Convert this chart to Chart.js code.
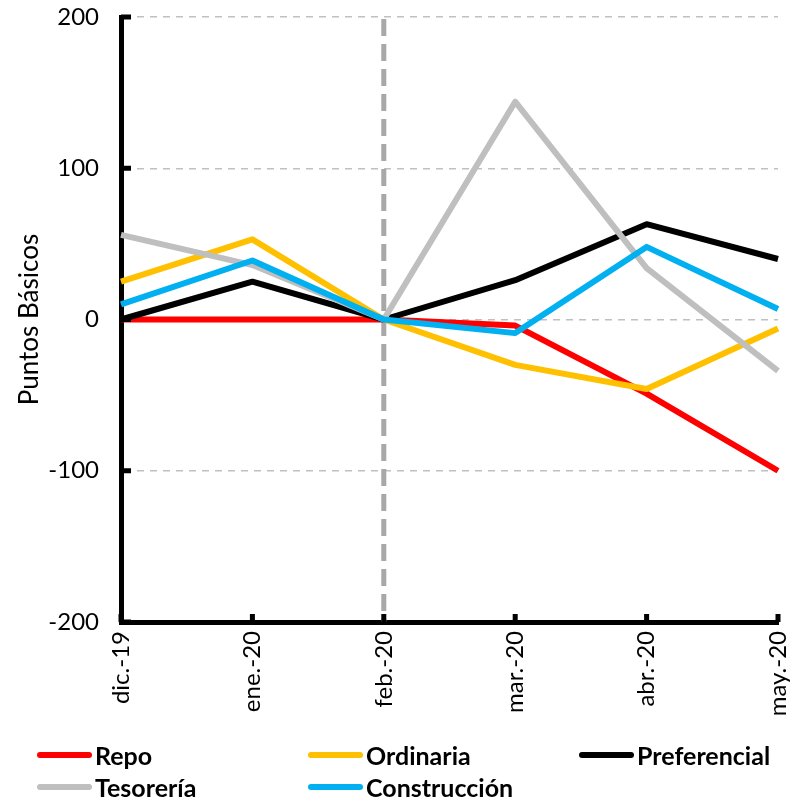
<!DOCTYPE html>
<html>
<head>
<meta charset="utf-8">
<script src="https://cdn.jsdelivr.net/npm/chart.js@4/dist/chart.umd.min.js"></script>
<style>
    body { margin: 0; background: #fff; }
    #wrap { position: relative; width: 792px; height: 803px; }
    #chart { position: absolute; left: 0; top: 0; }
    #legend {
        position: absolute; left: 37px; top: 739px;
        display: grid; grid-template-columns: 271px 271px 200px; grid-auto-rows: 32px;
        font-family: Lato, 'DejaVu Sans', sans-serif; font-weight: bold; font-size: 25px; color: #000;
    }
    .item { display: flex; align-items: center; }
    .swatch { width: 55px; height: 6px; border-radius: 3px; margin-right: 3px; }
</style>
</head>
<body>
<div id="wrap">
    <canvas id="chart" width="792" height="803"></canvas>
    <div id="legend"></div>
</div>
<script>
// Chart data
const categories = ['dic.-19', 'ene.-20', 'feb.-20', 'mar.-20', 'abr.-20', 'may.-20'];
const repo = [0, 0, 0, -4, -49, -100];
const ordinaria = [25, 53, 0, -30, -46, -6];
const preferencial = [0, 25, 0, 26, 63, 40];
const tesoreria = [56, 36, 0, 144, 34, -34];
const construccion = [10, 39, 0, -9, 48, 7];
const yTicks = [-200, -100, 0, 100, 200];
const markerIndex = 2; // feb.-20 dashed line

const seriesNames = ['Repo', 'Ordinaria', 'Preferencial', 'Tesorería', 'Construcción'];
const seriesColors = ['#FF0000', '#FFC000', '#000000', '#BFBFBF', '#00B0F0'];
const seriesValues = [repo, ordinaria, preferencial, tesoreria, construccion];

const font = "Lato, 'DejaVu Sans', sans-serif";

// Inward ticks on both axes + dashed vertical line at feb.-20
const extras = {
    id: 'extras',
    beforeDatasetsDraw(chart) {
        const { ctx, chartArea, scales } = chart;
        const x = scales.x.getPixelForValue(markerIndex);
        ctx.save();
        ctx.strokeStyle = '#A9A7A7';
        ctx.lineWidth = 5;
        ctx.setLineDash([17, 8]);
        ctx.beginPath();
        ctx.moveTo(x, chartArea.top + 2);
        ctx.lineTo(x, chartArea.bottom);
        ctx.stroke();
        ctx.restore();
    },
    afterDraw(chart) {
        const { ctx, chartArea, scales } = chart;
        ctx.save();
        ctx.fillStyle = '#000';
        yTicks.forEach(v => {
            const y = scales.y.getPixelForValue(v);
            ctx.fillRect(chartArea.left, y - 2.5, 10, 5);
        });
        categories.forEach((c, i) => {
            const x = scales.x.getPixelForValue(i);
            ctx.fillRect(x - 2.5, chartArea.bottom - 8, 5, 8);
        });
        ctx.restore();
    }
};

const datasets = seriesNames.map((name, i) => ({
    label: name,
    data: seriesValues[i],
    borderColor: seriesColors[i],
    backgroundColor: seriesColors[i],
    borderWidth: 6,
    pointRadius: 0,
    tension: 0,
    fill: false,
    borderJoinStyle: 'round',
    order: seriesNames.length - i
}));

new Chart(document.getElementById('chart'), {
    type: 'line',
    data: { labels: categories, datasets },
    plugins: [extras],
    options: {
        responsive: false,
        animation: false,
        layout: { padding: { top: 17, right: 14, left: 0, bottom: 0 } },
        plugins: { legend: { display: false }, tooltip: { enabled: false } },
        scales: {
            x: {
                offset: false,
                grid: { display: false, drawTicks: false },
                border: { display: true, color: '#000', width: 5 },
                ticks: {
                    color: '#000', font: { family: font, size: 24 },
                    maxRotation: 90, minRotation: 90, padding: 9, autoSkip: false
                },
                afterFit(scale) {
                    scale.height = 181;
                    scale.paddingLeft = 0;
                    scale.paddingRight = 0;
                }
            },
            y: {
                min: -200, max: 200,
                afterBuildTicks(scale) { scale.ticks = yTicks.map(v => ({ value: v })); },
                grid: { color: '#C0C0C0', lineWidth: 1.5, drawTicks: false },
                border: { display: true, color: '#000', width: 5, dash: [7, 6] },
                ticks: { color: '#000', font: { family: font, size: 24 }, padding: 22 },
                title: {
                    display: true, text: 'Puntos Básicos', color: '#000',
                    font: { family: font, size: 26 }, padding: { top: 14, bottom: 0 }
                },
                afterFit(scale) {
                    scale.width = 121;
                    scale.paddingTop = 0;
                    scale.paddingBottom = 0;
                }
            }
        }
    }
});

// HTML legend in three aligned columns
const legendDiv = document.getElementById('legend');
seriesNames.forEach((name, i) => {
    const item = document.createElement('div');
    item.className = 'item';
    item.innerHTML = `<span class="swatch" style="background:${seriesColors[i]}"></span><span>${name}</span>`;
    legendDiv.appendChild(item);
});
</script>
</body>
</html>
